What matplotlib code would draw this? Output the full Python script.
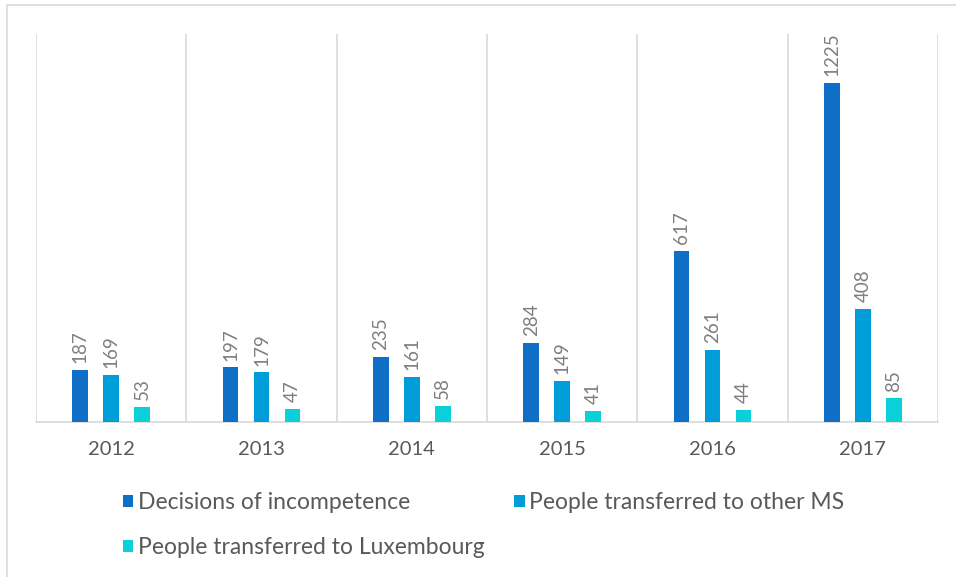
import matplotlib.pyplot as plt
import numpy as np
from matplotlib.patches import Rectangle

# data
years = ["2012", "2013", "2014", "2015", "2016", "2017"]
decisions = [187, 197, 235, 284, 617, 1225]
transferred_ms = [169, 179, 161, 149, 261, 408]
transferred_lux = [53, 47, 58, 41, 44, 85]
series_names = ["Decisions of incompetence",
                "People transferred to other MS",
                "People transferred to Luxembourg"]
colors = ["#0F6FC6", "#009DD9", "#0BD0D9"]

plt.rcParams['font.family'] = ['Lato', 'DejaVu Sans']

fig = plt.figure(figsize=(9.56, 5.77), dpi=100)
ax = fig.add_axes([36 / 956, 1 - 422 / 577, (938 - 36) / 956, (422 - 34) / 577])

# outer frame
fig.patches.append(Rectangle((7 / 956, -0.01), 1.0, 1 - 5 / 577 + 0.01,
                             transform=fig.transFigure, fill=False,
                             edgecolor="#D9D9D9", linewidth=1.2))

x = np.arange(len(years))
offset = 0.206
width = 0.106
bars = []
for i, (vals, name, c) in enumerate(zip([decisions, transferred_ms, transferred_lux],
                                        series_names, colors)):
    pos = x + (i - 1) * offset
    bars.append(ax.bar(pos, vals, width, color=c, label=name, zorder=3))
    for p, v in zip(pos, vals):
        ax.annotate(str(v), (p, v), xytext=(0, 5), textcoords="offset points",
                    rotation=90, ha="center", va="bottom",
                    fontsize=13.5, color="#7F7F7F")

ax.set_xlim(-0.5, len(years) - 0.5)
ax.set_ylim(0, 1402)
for b in np.arange(len(years) + 1) - 0.5:
    ax.axvline(b, color="#D9D9D9", linewidth=1.2, zorder=1)

for s in ["top", "left", "right"]:
    ax.spines[s].set_visible(False)
ax.spines["bottom"].set_color("#D9D9D9")
ax.spines["bottom"].set_linewidth(1.2)
ax.set_yticks([])
ax.set_xticks(x)
ax.set_xticklabels(years, fontsize=14.5, color="#595959")
ax.tick_params(axis="x", length=0, pad=14)

# legend filled row by row: 2 entries on first row, 1 on second
order = [0, 2, 1]
fig.legend([bars[k] for k in order], [series_names[k] for k in order],
           loc="upper left", bbox_to_anchor=(123 / 956, 1 - 492 / 577), ncol=2,
           frameon=False, fontsize=16.5, labelcolor="#595959",
           handlelength=0.45, handleheight=0.45, handletextpad=0.2,
           columnspacing=1.3, labelspacing=1.05, borderpad=0, borderaxespad=0)

fig.savefig("out.png", dpi=100)
